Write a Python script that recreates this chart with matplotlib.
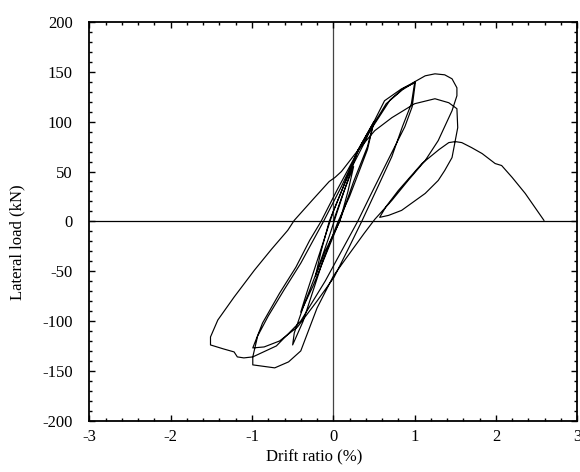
import numpy as np
import matplotlib
matplotlib.use("Agg")
import matplotlib.pyplot as plt
from matplotlib.ticker import MultipleLocator

# ---- data (drift ratio %, lateral load kN) ----
drift_c025 = [0.00, 0.12, 0.25, 0.18, 0.08, -0.10, -0.22, -0.15, -0.05]
load_c025 = [0, 28, 55, 30, 0, -30, -55, -30, 0]

drift_c05a = [0.10, 0.30, 0.50, 0.42, 0.25, 0.10, -0.10, -0.25, -0.40, -0.32, -0.20, -0.10, 0.00]
load_c05a = [30, 71, 100, 75, 40, 5, -35, -65, -91, -70, -40, -15, 10]

drift_c05b = [0.20, 0.39, 0.50, 0.42, 0.20, 0.06, -0.13, -0.37, -0.50, -0.48, -0.37, -0.20, -0.05, 0.05]
load_c05b = [50, 80, 100, 72, 25, 0, -40, -100, -124, -112, -86, -50, -15, 10]

drift_c1a = [0.30, 0.50, 0.63, 0.84, 1.00, 0.96, 0.85, 0.72, 0.55, 0.35, 0.20, 0.01, -0.20,
             -0.44, -0.66, -0.85, -0.99, -0.87, -0.66, -0.46, -0.29, -0.15, 0.05, 0.30, 0.50,
             0.65, 0.85, 1.01]
load_c1a = [71, 100, 121, 133, 139, 118, 95, 65, 35, 0, -25, -56, -80,
            -106, -120, -126, -127, -102, -72, -46, -19, 0, 32, 70, 98,
            118, 132, 140]

drift_c1b = [0.97, 0.88, 0.67, 0.45, 0.30, 0.10, -0.10, -0.40, -0.70, -0.99, -0.93, -0.80,
             -0.60, -0.40, -0.20, -0.12, 0.10, 0.35, 0.55, 0.70, 0.87, 1.00]
load_c1b = [115, 95, 61, 25, 0, -30, -60, -100, -125, -136, -115, -95,
            -68, -42, -12, 0, 35, 78, 103, 122, 134, 140]

drift_c15a = [1.13, 1.25, 1.37, 1.46, 1.52, 1.52, 1.46, 1.42, 1.29, 1.13, 0.92, 0.72, 0.51,
              0.38, 0.14, 0.00, -0.20, -0.40, -0.55, -0.72, -0.99, -0.99, -1.10, -1.18,
              -1.22, -1.35, -1.51, -1.51, -1.42, -1.22, -0.97, -0.76, -0.56, -0.48, -0.25,
              -0.05, 0.02, 0.10, 0.30, 0.51, 0.72, 1.00, 1.25, 1.42, 1.52]
load_c15a = [146, 148, 147, 143, 134, 126, 111, 104, 81, 61, 41, 21, 2,
             -12, -39, -55, -87, -130, -141, -147, -144, -136, -137, -136,
             -131, -128, -124, -116, -99, -76, -49, -28, -9, 1, 22,
             40, 44, 50, 71, 91, 104, 118, 123, 119, 113]

drift_c15b = [1.53, 1.50, 1.46, 1.37, 1.29, 1.13, 0.84, 0.68, 0.57]
load_c15b = [94, 81, 64, 51, 41, 28, 11, 6, 4]

drift_final = [0.65, 0.80, 0.95, 1.09, 1.30, 1.42, 1.50, 1.58, 1.70, 1.83, 1.99, 2.07, 2.20,
               2.36, 2.48, 2.59]
load_final = [15, 31, 45, 58, 72, 79, 80, 79, 74, 68, 58, 56, 44,
              28, 14, 1]

drift = np.concatenate([drift_c025, drift_c05a, drift_c05b, drift_c1a, drift_c1b,
                        drift_c15a, drift_c15b, drift_final])
load = np.concatenate([load_c025, load_c05a, load_c05b, load_c1a, load_c1b,
                       load_c15a, load_c15b, load_final])

x_ticks = [-3, -2, -1, 0, 1, 2, 3]
y_ticks = [-200, -150, -100, -50, 0, 50, 100, 150, 200]

plt.rcParams['font.family'] = ['Liberation Serif', 'DejaVu Serif']

fig = plt.figure(figsize=(5.8, 4.72), dpi=100)
ax = fig.add_axes([0.154, 0.1087, 0.8413, 0.8447])

ax.axhline(0, color='black', lw=0.9, zorder=1)
ax.axvline(0, color='#444444', lw=0.9, zorder=1)
ax.plot(drift, load, color='black', lw=0.85, zorder=2)

ax.set_xlim(-3, 3)
ax.set_ylim(-200, 200)
ax.set_xticks(x_ticks)
ax.set_yticks(y_ticks)
ax.set_xticklabels([str(v) for v in x_ticks])
ax.set_yticklabels([str(v) for v in y_ticks])
ax.xaxis.set_minor_locator(MultipleLocator(0.2))
ax.yaxis.set_minor_locator(MultipleLocator(10))
ax.tick_params(which='both', direction='in', top=True, right=True, labelsize=12, width=1.0)
ax.tick_params(which='major', length=4.5)
ax.tick_params(which='minor', length=2.5)
ax.tick_params(axis='y', which='major', pad=12)
ax.tick_params(axis='x', which='major', pad=6)
for s in ax.spines.values():
    s.set_linewidth(1.3)

ax.set_xlabel('Drift ratio (%)', fontsize=12)
ax.set_ylabel('Lateral load (kN)', fontsize=12)
ax.xaxis.set_label_coords(0.4615, -0.071)
ax.yaxis.set_label_coords(-0.13, 0.448)

fig.savefig('out.png', dpi=100)
